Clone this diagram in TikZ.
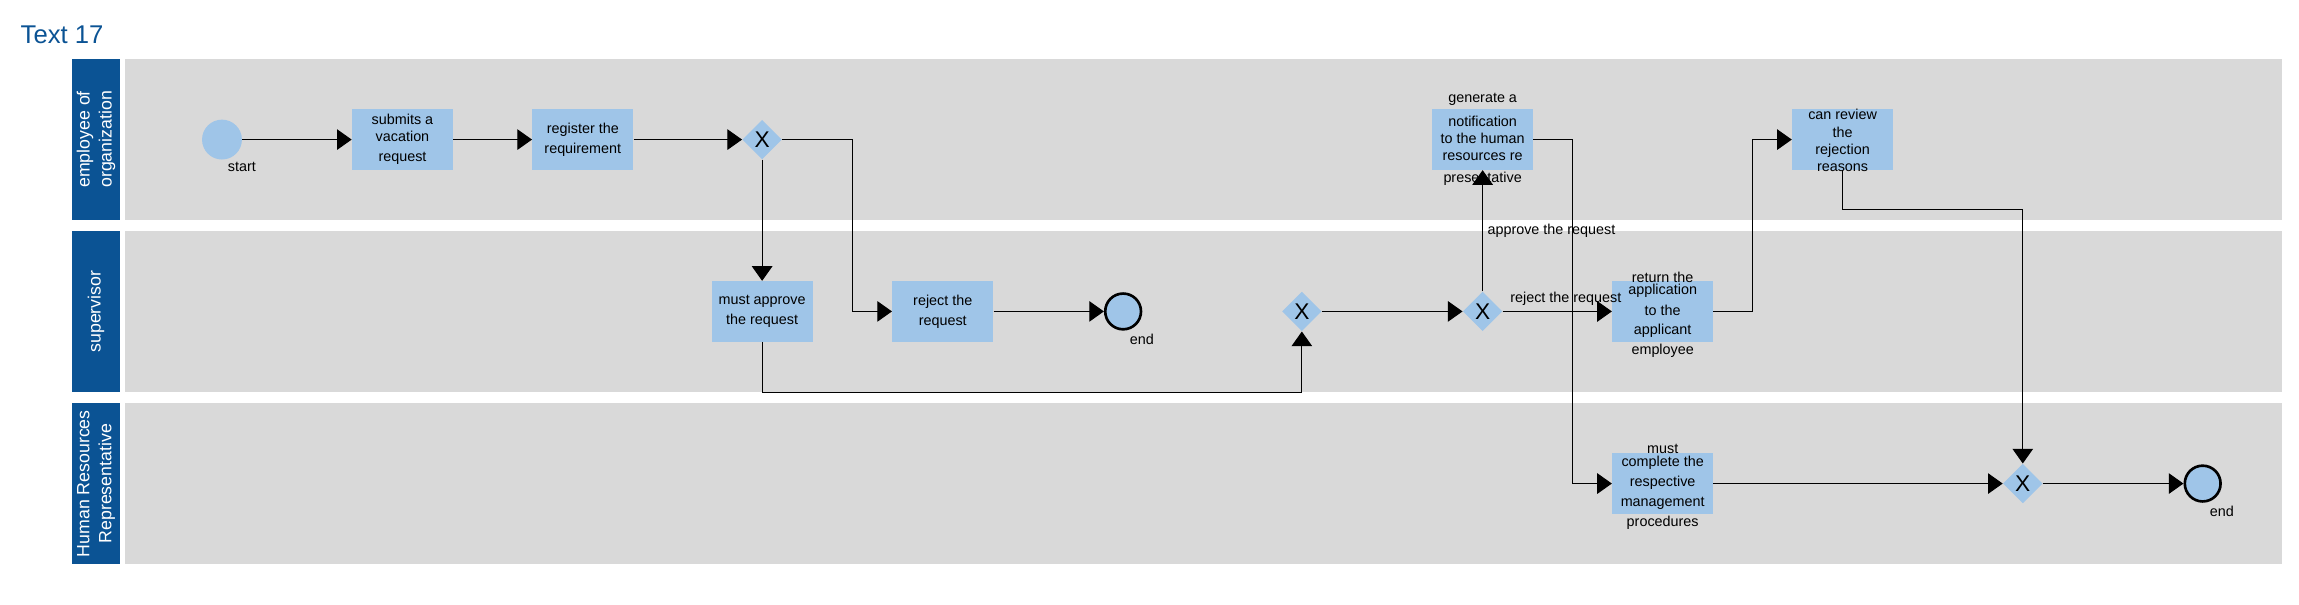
\documentclass[tikz,border=0pt]{standalone}
\usepackage{fontspec}
\setmainfont{Liberation Sans}
\usetikzlibrary{arrows.meta,shapes.geometric}
\definecolor{lanegray}{HTML}{D9D9D9}
\definecolor{headblue}{HTML}{0B5394}
\definecolor{taskblue}{HTML}{9FC5E8}
\newcommand\tasksize{\fontsize{9.8pt}{13.6pt}\selectfont}
\tikzset{
	task/.style={rectangle, fill=taskblue, minimum width=68.9pt, minimum height=41.3pt, inner sep=0pt, align=center, font=\tasksize},
	tasktext/.style={inner sep=0pt, align=center, font=\tasksize},
	gate/.style={diamond, fill=taskblue, minimum width=27pt, minimum height=27pt, inner sep=0pt, font=\fontsize{15.5pt}{15.5pt}\selectfont},
	startev/.style={circle, fill=taskblue, minimum size=27.2pt, inner sep=0pt},
	endev/.style={circle, fill=taskblue, draw=black, line width=1.8pt, minimum size=24.4pt, inner sep=0pt},
	flow/.style={-{Triangle[length=10pt,width=14pt]}, line width=0.7pt},
	lbl/.style={inner sep=0pt, font=\tasksize},
	lanehead/.style={rotate=90, text=white, align=center, inner sep=0pt, font=\fontsize{12.1pt}{15pt}\selectfont}
}
\begin{document}
\begin{tikzpicture}[x=1pt,y=-1pt]
	\useasboundingbox (0,0) rectangle (1568,412.6);
	\node[anchor=base west, inner sep=0pt, text=headblue, font=\fontsize{17.5pt}{20pt}\selectfont] (title) at (13.9,30) {Text 17};
	\foreach \top/\txt [count=\i] in {40.2/{employee of\\organization},157.6/supervisor,275/{Human Resources\\Representative}}{
		\fill[lanegray] (85.3,\top) rectangle ++(1471.1,109.8);
		\fill[headblue] (49.1,\top) rectangle ++(32.8,109.8);
		\node[lanehead] (lane\i) at (65.5,\top+54.9) {\txt};
	}
	% employee of organization
	\node[startev] (start) at (151.4,95.2) {};
	\node[lbl] (start-l) at (165,114) {start};
	\node[task] (submit) at (274.5,95.2) {submits a\\[-2pt]vacation\\request};
	\node[task] (register) at (397.5,95.2) {register the\\requirement};
	\node[gate] (g1) at (519.8,95.2) {X};
	\node[task] (notify) at (1011.2,95.2) {};
	\node[tasktext] (notify-t) at (1011.2,95) {generate a\\[2.4pt]notification\\[-1.9pt]to the human\\[-1.9pt]resources re\\[1.2pt]presentative};
	\node[task] (review) at (1256.7,95.2) {};
	\node[tasktext] (review-t) at (1256.7,95.8) {can review\\[-1.9pt]the\\[-1.9pt]rejection\\[-1.9pt]reasons};
	% supervisor
	\node[task] (approve) at (519.8,212.4) {must approve\\the request};
	\node[task] (reject) at (643,212.4) {reject the\\request};
	\node[endev] (end1) at (766,212.4) {};
	\node[lbl] (end1-l) at (778.8,231.6) {end};
	\node[gate] (g2) at (887.9,212.4) {X};
	\node[gate] (g3) at (1011.2,212.4) {X};
	\node[task] (ret) at (1134,212.4) {};
	\node[tasktext] (ret-t) at (1134,214.6) {return the\\[-5pt]application\\[0.9pt]to the\\[-0.8pt]applicant\\employee};
	% human resources representative
	\node[task] (complete) at (1134,329.8) {};
	\node[tasktext] (complete-t) at (1134,332) {must\\[-4.6pt]complete the\\respective\\management\\procedures};
	\node[gate] (g4) at (1379.6,329.8) {X};
	\node[endev] (end2) at (1502.3,329.8) {};
	\node[lbl] (end2-l) at (1515.4,348.7) {end};
	% flows
	\draw[flow] (start) -- (submit);
	\draw[flow] (submit) -- (register);
	\draw[flow] (register) -- (g1);
	\draw[flow] (g1) -- (approve);
	\draw[flow] (g1.east) -- ++(48.1,0) |- (reject);
	\draw[flow] (reject) -- (end1);
	\draw[flow] (approve.south) -- ++(0,34.4) -| (g2.south);
	\draw[flow] (g2) -- (g3);
	\draw[flow] (g3) -- node[lbl, right=3pt]{approve the request} (notify);
	\draw[flow] (g3) -- node[lbl, pos=0.578, above=3.4pt]{reject the request} (ret);
	\draw[flow] (notify.east) -- ++(26.6,0) |- (complete);
	\draw[flow] (ret.east) -- ++(26.9,0) |- (review);
	\draw[flow] (review.south) -- ++(0,27) -| (g4);
	\draw[flow] (complete) -- (g4);
	\draw[flow] (g4) -- (end2);
\end{tikzpicture}
\end{document}
